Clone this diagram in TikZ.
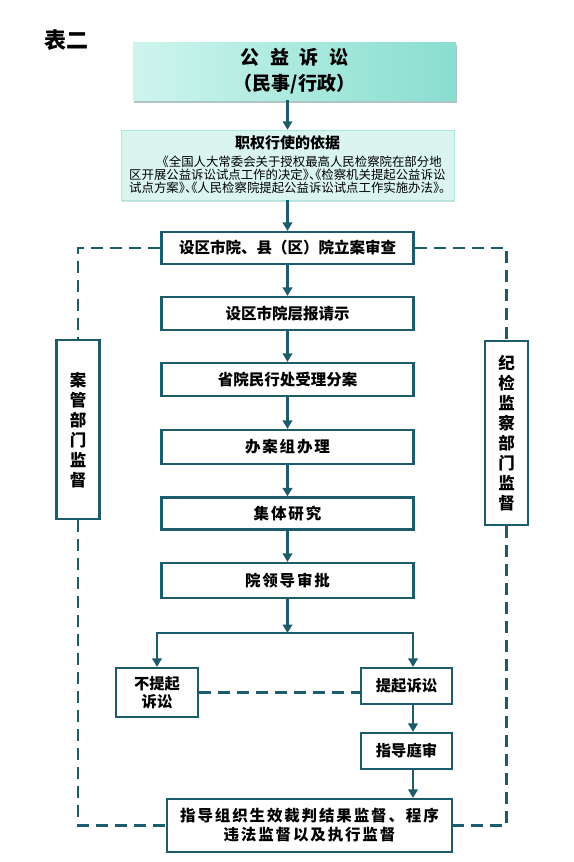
\documentclass[tikz,border=0pt]{standalone}
\usepackage{fontspec}
\setmainfont{Noto Sans CJK SC}
\newfontfamily\spfont[LetterSpace=12]{Noto Sans CJK SC}
\usetikzlibrary{arrows.meta,positioning,calc,shadows}
\definecolor{lineteal}{RGB}{28,92,108}
\definecolor{aqualight}{RGB}{206,245,237}
\definecolor{aquadark}{RGB}{136,222,208}
\definecolor{infofill}{RGB}{218,245,240}
% half-width punctuation
\newcommand{\pr}[1]{\makebox[0.5em][l]{#1}}
\newcommand{\pl}[1]{\makebox[0.5em][r]{#1}}

\begin{document}
\begin{tikzpicture}[x=1pt, y=-1pt,
    bx/.style={rectangle, draw=lineteal, line width=2.2pt, fill=white, minimum width=252pt,
               minimum height=33pt, inner sep=0pt, align=center,
               font=\fontsize{15.5}{18}\selectfont\bfseries},
    sm/.style={bx, minimum width=91pt, minimum height=36pt, font=\fontsize{15.3}{18}\selectfont\bfseries},
    side/.style={bx, minimum width=43pt, font=\fontsize{16.5}{20}\selectfont\bfseries},
    topbx/.style={rectangle, minimum width=323pt, minimum height=58pt, align=center,
                  left color=aqualight, right color=aquadark,
                  drop shadow={shadow xshift=1pt, shadow yshift=-2.5pt, fill=lineteal!60, opacity=0.6},
                  font=\fontsize{19}{26}\selectfont\bfseries},
    ar/.style={draw=lineteal, line width=2.8pt, -{Triangle[length=8.5pt,width=9.5pt]}},
    ln/.style={draw=lineteal, line width=2.8pt},
    dl/.style={draw=lineteal, line width=2.2pt, dash pattern=on 12pt off 7pt}]
\useasboundingbox[fill=white] (0,0) rectangle (573,862);

\node[font=\fontsize{22}{24}\selectfont\bfseries] (ttl) at (66,40) {表二};

% top part
\node[topbx] (top) at (294.5,71) {公\hspace{0.55em}益\hspace{0.55em}诉\hspace{0.55em}讼\\（民事/行政）};
\node[rectangle, minimum width=333pt, minimum height=70pt, fill=infofill, draw=aquadark!70,
      drop shadow={shadow xshift=1pt, shadow yshift=-2pt, fill=lineteal!40, opacity=0.5}] (info) at (287.5,165) {};
\node[font=\fontsize{15}{18}\selectfont\bfseries] (infot) at (287.5,143) {职权行使的依据};
\node[anchor=north west, inner sep=0pt, align=left, font=\fontsize{12.4}{12.9}\selectfont] (infob) at (129,155.5)
  {\hspace*{2.2em}《全国人大常委会关于授权最高人民检察院在部分地\\
   区开展公益诉讼试点工作的决定\pr{》}\pr{、}\pl{《}检察机关提起公益诉讼\\
   试点方案\pr{》}\pr{、}\pl{《}人民检察院提起公益诉讼试点工作实施办法\pr{》}。};

% main column
\foreach \n/\y/\h/\t in {1/248/32/设区市院、县（区）院立案审查,
                         2/313.5/33/设区市院层报请示,
                         3/379.5/33/省院民行处受理分案,
                         4/447/34/{\spfont\bfseries 办案组办理},
                         5/513.5/32/{\spfont\bfseries 集体研究},
                         6/580.5/35/{\spfont\bfseries 院领导审批}}
  \node[bx, minimum height=\h pt] (s\n) at (287.5,\y) {\t};

\draw[ar] (top.south -| info.north) -- (info.north);
\draw[ar] (info) -- (s1);
\foreach \a/\b in {1/2,2/3,3/4,4/5,5/6}
  \draw[ar] (s\a) -- (s\b);

% branch
\coordinate (br) at (287.5,633);
\coordinate (brR) at (413,633);
\node[sm, minimum width=82pt, minimum height=49pt] (nosuit) at (157,692.5) {不提起\\诉讼};
\node[sm] (suit) at (406.5,686) {提起诉讼};
\node[sm] (trial) at (406.5,751) {指导庭审};
\node[bx, minimum width=285pt, minimum height=53pt, font=\fontsize{15.5}{19}\selectfont\spfont\bfseries] (final) at (309.5,825.5)
  {指导组织生效裁判结果监督、程序\\违法监督以及执行监督};

\draw[ar] (s6) -- (br);
\draw[ar] (br) -| (nosuit.north);
\draw[ar] (br) -| (suit.north -| brR);
\draw[ar] (suit.south -| brR) -- (trial.north -| brR);
\draw[ar] (trial.south -| brR) -- (final.north -| brR);
\draw[dl] (nosuit.east) -- (nosuit.east -| suit.west);

% supervision sides
\node[side, minimum height=179pt] (lside) at (78,429.7) {案\\管\\部\\门\\监\\督};
\node[side, minimum height=184pt] (rside) at (506.5,433) {纪\\检\\监\\察\\部\\门\\监\\督};
\draw[dl] (s1.west) -| (lside.north);
\draw[dl] (lside.south) |- (final.west);
\draw[dl] (s1.east) -| (rside.north);
\draw[dl] (rside.south) |- (final.east);
\end{tikzpicture}
\end{document}
